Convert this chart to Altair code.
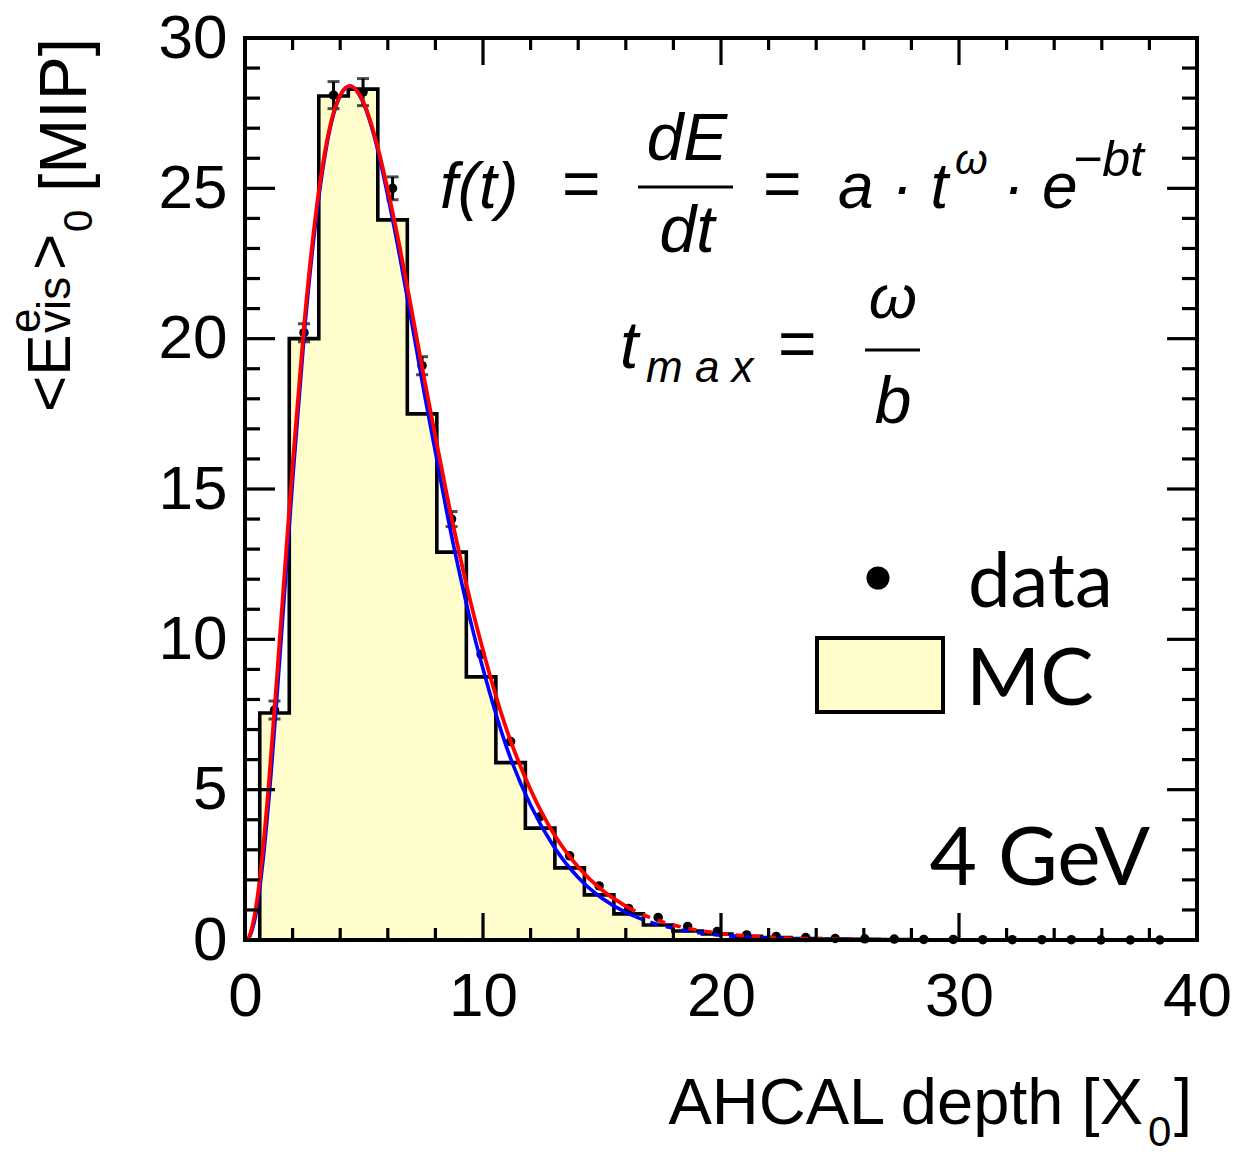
import altair as alt
import pandas as pd

# ---------------- data ----------------
bin_centers = [1.24, 2.48, 3.72, 4.96, 6.20, 7.44, 8.68, 9.92, 11.16, 12.40,
               13.64, 14.88, 16.12, 17.36, 18.60, 19.84, 21.08, 22.32, 23.56, 24.80,
               26.04, 27.28, 28.52, 29.76, 31.00, 32.24, 33.48, 34.72, 35.96, 37.20, 38.44]
bin_width = 1.24
mc_values = [7.55, 20.0, 28.07, 28.3, 23.95, 17.5, 12.9, 8.75, 5.9, 3.72,
             2.4, 1.5, 0.87, 0.5, 0.3, 0.2, 0.12, 0.08, 0.05, 0.03,
             0.02, 0.015, 0.01, 0.01, 0.005, 0.005, 0.0, 0.0, 0.0, 0.0, 0.0]
data_values = [7.65, 20.2, 28.1, 28.2, 25.0, 19.1, 14.0, 9.5, 6.6, 4.1,
               2.8, 1.8, 1.05, 0.75, 0.45, 0.28, 0.17, 0.12, 0.08, 0.05,
               0.04, 0.03, 0.02, 0.02, 0.01, 0.01, 0.01, 0.01, 0.0, 0.0, 0.0]
data_errors = [0.3, 0.3, 0.45, 0.45, 0.38, 0.3, 0.25, 0.15, 0.1, 0.1,
               0.05, 0.05, 0.05, 0.02, 0.02, 0.02, 0.02, 0.02, 0.02, 0.02,
               0.0, 0.0, 0.0, 0.0, 0.0, 0.0, 0.0, 0.0, 0.0, 0.0, 0.0]

# fit curves (solid part)
curve_t = [0.12, 0.25, 0.5, 0.75, 1.0, 1.5, 2.0, 2.5, 3.0, 3.5, 4.0, 4.4, 5.0, 5.5,
           6.0, 6.5, 7.0, 7.5, 8.0, 8.5, 9.0, 9.5, 10.0, 11.0, 12.0, 13.0, 14.0,
           15.0, 16.0, 16.4]
red_fit = [0.0, 0.28, 1.29, 2.98, 5.18, 10.45, 15.8, 20.6, 24.3, 26.8, 28.1, 28.4,
           27.83, 26.6, 24.95, 23.05, 20.95, 18.8, 16.75, 14.73, 12.88, 11.17, 9.64,
           6.98, 5.0, 3.5, 2.43, 1.66, 1.13, 0.96]
blue_fit = [0.0, 0.21, 1.06, 2.59, 4.66, 9.8, 15.27, 20.26, 24.07, 26.71, 28.08, 28.4,
            27.79, 26.52, 24.75, 22.75, 20.56, 18.33, 16.23, 14.14, 12.25, 10.53, 9.02,
            6.39, 4.48, 3.08, 2.08, 1.39, 0.92, 0.78]
# extrapolated (dashed) part
dash_t = [16.4, 17.0, 18.0, 19.0, 20.0, 22.0, 24.0, 26.0, 28.0]
red_dash = [0.96, 0.75, 0.50, 0.33, 0.217, 0.092, 0.038, 0.015, 0.006]
blue_dash = [0.78, 0.60, 0.39, 0.25, 0.16, 0.064, 0.025, 0.01, 0.004]

x_major = [10, 20, 30]
x_minor = [2, 4, 6, 8, 12, 14, 16, 18, 22, 24, 26, 28, 32, 34, 36, 38]
y_major = [5, 10, 15, 20, 25]
y_minor = [1, 2, 3, 4, 6, 7, 8, 9, 11, 12, 13, 14, 16, 17, 18, 19, 21, 22, 23, 24,
           26, 27, 28, 29]
x_labels = [0, 10, 20, 30, 40]
y_labels = [0, 5, 10, 15, 20, 25, 30]

# ---------------- layout ----------------
W, H = 952, 902
L, T = 245, 38
YELLOW = "#fffdcc"
SANS = "Liberation Sans, Arial, Helvetica, sans-serif"
MATH = "Liberation Sans Narrow, Liberation Sans, sans-serif"
GILL = "Lato, Open Sans, sans-serif"

xs = alt.Scale(domain=[0, 40], nice=False, zero=False)
ys = alt.Scale(domain=[0, 30], nice=False, zero=False)
xaxis = alt.Axis(values=x_labels, labelFontSize=62, labelFont=SANS, labelColor="black",
                 ticks=False, domain=False, grid=False, labelPadding=26, title=None,
                 labelFlush=False)
yaxis = alt.Axis(values=y_labels, labelFontSize=62, labelFont=SANS, labelColor="black",
                 ticks=False, domain=False, grid=False, labelPadding=18, title=None,
                 labelFlush=False)


def X(field):
    return alt.X(field, type="quantitative", scale=xs, axis=xaxis)


def Y(field):
    return alt.Y(field, type="quantitative", scale=ys, axis=yaxis)


hist = pd.DataFrame({
    "lo": [c - bin_width / 2 for c in bin_centers],
    "hi": [c + bin_width / 2 for c in bin_centers],
    "v": mc_values,
    "z": [0.0] * len(mc_values),
})
outline = pd.DataFrame({
    "x": [bin_centers[0] - bin_width / 2] + [c - bin_width / 2 for c in bin_centers]
         + [bin_centers[-1] + bin_width / 2],
    "y": [0.0] + mc_values + [0.0],
})
outline["i"] = range(len(outline))
pts = pd.DataFrame({"x": bin_centers, "y": data_values, "e": data_errors})
pts["lo"] = pts["y"] - pts["e"]
pts["hi"] = pts["y"] + pts["e"]
errs = pts[pts["e"] >= 0.2]

red_df = pd.DataFrame({"x": curve_t, "y": red_fit})
blue_df = pd.DataFrame({"x": curve_t, "y": blue_fit})
red_d = pd.DataFrame({"x": dash_t, "y": red_dash})
blue_d = pd.DataFrame({"x": dash_t, "y": blue_dash})

layers = []
layers.append(alt.Chart(hist).mark_rect(fill=YELLOW, strokeWidth=0).encode(
    x=X("lo"), x2="hi", y=Y("z"), y2="v"))
layers.append(alt.Chart(outline).mark_line(color="black", strokeWidth=3.6,
                                           interpolate="step-after").encode(
    x=X("x"), y=Y("y"), order="i:Q"))
layers.append(alt.Chart(errs).mark_rule(color="black", strokeWidth=3).encode(
    x=X("x"), y=Y("lo"), y2="hi"))
layers.append(alt.Chart(errs).mark_tick(color="black", thickness=3, size=12,
                                        orient="horizontal").encode(x=X("x"), y=Y("lo")))
layers.append(alt.Chart(errs).mark_tick(color="black", thickness=3, size=12,
                                        orient="horizontal").encode(x=X("x"), y=Y("hi")))
layers.append(alt.Chart(pts).mark_circle(color="black", size=90, opacity=1).encode(
    x=X("x"), y=Y("y")))
layers.append(alt.Chart(blue_df).mark_line(color="#0000ff", strokeWidth=3.6,
                                           interpolate="monotone").encode(x=X("x"), y=Y("y")))
layers.append(alt.Chart(red_df).mark_line(color="#ff0000", strokeWidth=3.8,
                                          interpolate="monotone").encode(x=X("x"), y=Y("y")))
layers.append(alt.Chart(blue_d).mark_line(color="#0000ff", strokeWidth=3.6, strokeDash=[8, 8],
                                          interpolate="monotone").encode(x=X("x"), y=Y("y")))
layers.append(alt.Chart(red_d).mark_line(color="#ff0000", strokeWidth=3.6, strokeDash=[8, 8],
                                         strokeDashOffset=8,
                                         interpolate="monotone").encode(x=X("x"), y=Y("y")))

# inward ticks on all four sides
xmaj = pd.DataFrame({"x": x_major})
xmin = pd.DataFrame({"x": x_minor})
ymaj = pd.DataFrame({"y": y_major})
ymin = pd.DataFrame({"y": y_minor})
for df, ln in ((xmaj, 27), (xmin, 12)):
    layers.append(alt.Chart(df).mark_rule(color="black", strokeWidth=3.2).encode(
        x=X("x"), y=alt.value(H), y2=alt.value(H - ln)))
    layers.append(alt.Chart(df).mark_rule(color="black", strokeWidth=3.2).encode(
        x=X("x"), y=alt.value(0), y2=alt.value(ln)))
for df, ln in ((ymaj, 30), (ymin, 15)):
    layers.append(alt.Chart(df).mark_rule(color="black", strokeWidth=3.2).encode(
        y=Y("y"), x=alt.value(0), x2=alt.value(ln)))
    layers.append(alt.Chart(df).mark_rule(color="black", strokeWidth=3.2).encode(
        y=Y("y"), x=alt.value(W), x2=alt.value(W - ln)))

one = alt.Data(values=[{"a": 1}])

# frame
layers.append(alt.Chart(one).mark_rect(filled=False, stroke="black", strokeWidth=4).encode(
    x=alt.value(0), x2=alt.value(W), y=alt.value(0), y2=alt.value(H)))


def txt(s, ax, ay, size, font=SANS, style="normal", align="left", angle=0,
        baseline="alphabetic"):
    kw = dict(text=s, fontSize=size, font=font, align=align, baseline=baseline,
              color="black", fontStyle=style)
    if angle:
        kw["angle"] = angle
    return alt.Chart(one).mark_text(**kw).encode(x=alt.value(ax - L), y=alt.value(ay - T))


def hline(x1, x2, ay, w=3):
    return alt.Chart(one).mark_rule(color="black", strokeWidth=w).encode(
        x=alt.value(x1 - L), x2=alt.value(x2 - L), y=alt.value(ay - T))


# formula 1
layers += [
    txt("f(t)", 440, 208, 64, MATH, "italic"),
    txt("=", 562, 206, 66, SANS),
    txt("dE", 687, 160, 66, MATH, "italic", "center"),
    hline(638, 733, 187),
    txt("dt", 687, 252, 66, MATH, "italic", "center"),
    txt("=", 763, 206, 66, SANS),
    txt("a · t", 838, 208, 64, MATH, "italic"),
    txt("ω", 955, 174, 42, MATH, "italic"),
    txt("· e", 1003, 208, 64, MATH, "italic"),
    txt("−bt", 1073, 176, 50, MATH, "italic"),
]
# formula 2
layers += [
    txt("t", 620, 368, 66, MATH, "italic"),
    txt("m a x", 646, 382, 44, MATH, "italic"),
    txt("=", 778, 366, 66, SANS),
    txt("ω", 893, 318, 62, MATH, "italic", "center"),
    hline(865, 920, 350),
    txt("b", 893, 423, 66, MATH, "italic", "center"),
]
# legend
layers.append(alt.Chart(one).mark_circle(color="black", size=530, opacity=1).encode(
    x=alt.value(878 - L), y=alt.value(578 - T)))
layers.append(txt("data", 968, 607, 76, GILL))
layers.append(alt.Chart(one).mark_rect(fill=YELLOW, stroke="black", strokeWidth=4).encode(
    x=alt.value(817 - L), x2=alt.value(943 - L), y=alt.value(638 - T), y2=alt.value(712 - T)))
layers.append(txt("MC", 966, 705, 80, GILL))
layers.append(txt("4 GeV", 1150, 885, 82, GILL, align="right"))

# x title
layers += [
    txt("AHCAL depth [X", 1143, 1124, 65, SANS, align="right"),
    txt("0", 1148, 1146, 42, SANS),
    txt("]", 1174, 1124, 65, SANS),
]
# y title (rotated)
layers += [
    txt("<E", 70, 412, 62, SANS, angle=270),
    txt("e", 40, 333, 44, SANS, angle=270),
    txt("vis", 70, 333, 46, SANS, angle=270),
    txt(">", 70, 270, 62, SANS, angle=270),
    txt("0", 92, 232, 40, SANS, angle=270),
    txt("[MIP]", 86, 192, 66, SANS, angle=270),
]

chart = alt.layer(*layers).properties(
    width=W, height=H,
    autosize=alt.AutoSizeParams(type="none"),
    padding={"left": L, "top": T, "right": 1239 - L - W, "bottom": 1157 - T - H},
    background="white",
).configure_view(stroke=None)

chart.save("out.html", embed_options={"renderer": "svg", "actions": False})
